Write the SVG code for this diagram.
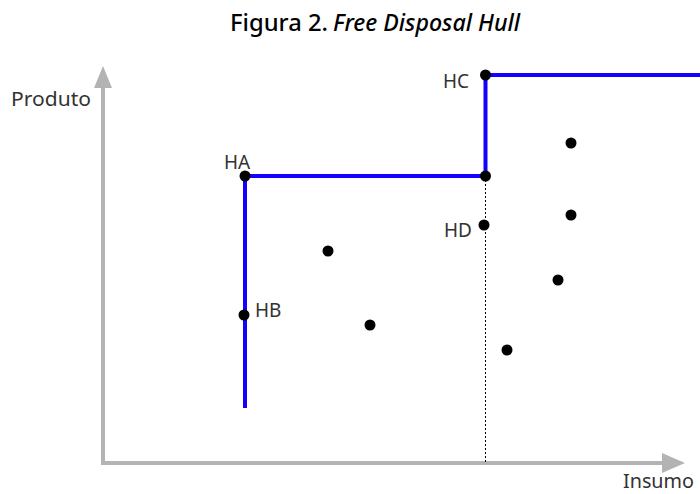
<svg xmlns="http://www.w3.org/2000/svg" width="700" height="494" viewBox="0 0 700 494">
<style>
.lbl{font-family:"Noto Sans","Open Sans",sans-serif;font-size:19px;fill:#333}
.ttl{font-family:"Noto Sans","Open Sans",sans-serif;font-size:23px;font-weight:500;fill:#000}
.axis{stroke:#b3b3b3;stroke-width:4;fill:none}
.hull{stroke:#1400ff;stroke-width:4;fill:none}
.pt{fill:#000}
</style>
<rect width="700" height="494" fill="#fff"/>
<g id="title">
<text class="ttl" x="230" y="31" textLength="98" lengthAdjust="spacingAndGlyphs">Figura 2.</text>
<text class="ttl" x="333" y="31" font-style="italic" textLength="187" lengthAdjust="spacingAndGlyphs">Free Disposal Hull</text>
</g>
<g id="connectors">
<path class="axis" d="M103 86 V463 H664"/>
<polygon fill="#b3b3b3" points="103,66 94,88 112,88"/>
<polygon fill="#b3b3b3" points="685,463 662,453 662,473"/>
<line x1="485.5" y1="176" x2="485.5" y2="463" stroke="#000" stroke-width="1" stroke-dasharray="2,2"/>
<path class="hull" d="M245 408 V176 H485.5 V75 H700"/>
</g>
<g id="labels">
<text class="lbl" x="11" y="106" textLength="80" lengthAdjust="spacingAndGlyphs">Produto</text>
<text class="lbl" x="623" y="488" font-size="18" textLength="71" lengthAdjust="spacingAndGlyphs">Insumo</text>
</g>
<g id="node-HC"><circle class="pt" cx="485.5" cy="75" r="5.5"/><text class="lbl" x="443" y="88">HC</text></g>
<g id="node-HA"><circle class="pt" cx="245" cy="176" r="5.5"/><text class="lbl" x="224" y="169">HA</text></g>
<g id="node-corner"><circle class="pt" cx="485.5" cy="176" r="5.5"/></g>
<g id="node-HD"><circle class="pt" cx="484" cy="225" r="5.5"/><text class="lbl" x="444" y="237">HD</text></g>
<g id="node-HB"><circle class="pt" cx="244" cy="315" r="5.5"/><text class="lbl" x="255" y="317">HB</text></g>
<g id="node-p1"><circle class="pt" cx="328" cy="251" r="5.5"/></g>
<g id="node-p2"><circle class="pt" cx="370" cy="325" r="5.5"/></g>
<g id="node-p3"><circle class="pt" cx="571" cy="143" r="5.5"/></g>
<g id="node-p4"><circle class="pt" cx="571" cy="215" r="5.5"/></g>
<g id="node-p5"><circle class="pt" cx="558" cy="280" r="5.5"/></g>
<g id="node-p6"><circle class="pt" cx="507" cy="350" r="5.5"/></g>
</svg>
